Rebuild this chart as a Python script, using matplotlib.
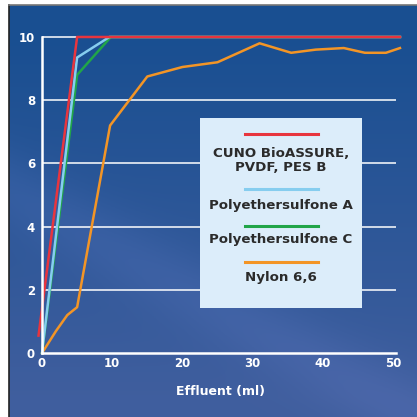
import numpy as np
import matplotlib
matplotlib.use('Agg')
import matplotlib.pyplot as plt
from matplotlib.lines import Line2D
from matplotlib.patches import Rectangle

# Values
cuno_x = [-0.5, 5, 51]
cuno_y = [0.55, 10, 10]
pes_a_x = [0, 5, 9.6, 51]
pes_a_y = [0, 9.35, 10, 10]
pes_c_x = [0, 5, 9.8, 51]
pes_c_y = [0, 8.8, 10, 10]
nylon_x = [0, 2, 3.6, 5, 9.7, 15, 20, 25, 31, 35.5, 39, 43, 46, 49, 51]
nylon_y = [0, 0.7, 1.2, 1.45, 7.2, 8.75, 9.05, 9.2, 9.8, 9.5, 9.6, 9.65, 9.5, 9.5, 9.65]

x_ticks = [0, 10, 20, 30, 40, 50]
y_ticks = [0, 2, 4, 6, 8, 10]

legend_labels = ['CUNO BioASSURE,\nPVDF, PES B', 'Polyethersulfone A',
                 'Polyethersulfone C', 'Nylon 6,6']
colors = ['#e8353e', '#86cdef', '#21a548', '#f39526']

fig = plt.figure(figsize=(4.17, 4.17), dpi=100)

# blue photo-like background
bg = fig.add_axes([9 / 417, 0, 1 - 9 / 417, 1 - 5 / 417])
yy, xx = np.mgrid[0:1:200j, 0:1:200j]
top = np.array([0.10, 0.31, 0.57])
bot = np.array([0.25, 0.37, 0.62])
t = np.clip(yy * 1.15 - 0.1, 0, 1)[..., None]
img = top * (1 - t) + bot * t
band = np.exp(-((yy - 0.55 * xx - 0.45) ** 2) / 0.01)[..., None]
img = img + band * np.array([0.04, 0.03, 0.04])
bg.imshow(np.clip(img, 0, 1), aspect='auto', extent=[0, 1, 0, 1], origin='upper')
bg.set_axis_off()
fig.add_artist(Line2D([9 / 417, 9 / 417], [0, 1 - 5 / 417], color='#222222', lw=1.2))
fig.add_artist(Line2D([9 / 417, 1], [1 - 5 / 417, 1 - 5 / 417], color='#777777', lw=1.2))

ax = fig.add_axes([35 / 417, 54.5 / 417, 372 / 417, 335 / 417])
ax.patch.set_alpha(0)
ax.set_xlim(-1, 52)
ax.set_ylim(-0.3, 10.3)

for y in y_ticks[1:]:
    ax.hlines(y, 0, 50.5, color='white', lw=1.1, zorder=1)

for xs, ys, c in zip([nylon_x, pes_c_x, pes_a_x, cuno_x],
                     [nylon_y, pes_c_y, pes_a_y, cuno_y],
                     [colors[3], colors[2], colors[1], colors[0]]):
    ax.plot(xs, ys, color=c, lw=1.8, zorder=3)

for side in ['top', 'right']:
    ax.spines[side].set_visible(False)
ax.spines['left'].set_position(('data', 0))
ax.spines['bottom'].set_position(('data', 0))
ax.spines['left'].set_bounds(0, 10)
ax.spines['bottom'].set_bounds(0, 50.5)
for side in ['left', 'bottom']:
    ax.spines[side].set_color('white')
    ax.spines[side].set_linewidth(1.8)
    ax.spines[side].set_zorder(4)

ax.set_xticks(x_ticks)
ax.set_yticks(y_ticks)
ax.tick_params(length=0, colors='white', labelsize=8.5)
ax.tick_params(axis='y', pad=5)
ax.tick_params(axis='x', pad=3)
for lab in ax.get_xticklabels() + ax.get_yticklabels():
    lab.set_fontweight('bold')
ax.set_xlabel('Effluent (ml)', color='white', fontsize=9, fontweight='bold', labelpad=11)

# legend box
fig.add_artist(Rectangle((200 / 417, 1 - 308 / 417), 162 / 417, 190 / 417,
                         transform=fig.transFigure, facecolor='#dcedfa',
                         edgecolor='none', zorder=5))
line_y = [134, 189, 226, 262]
text_y = [160.5, 205, 240, 278]
for c, lab, ly, ty in zip(colors, legend_labels, line_y, text_y):
    fig.add_artist(Line2D([245 / 417, 318 / 417], [1 - ly / 417] * 2, color=c,
                          lw=2.2, zorder=6))
    fig.text(281 / 417, 1 - ty / 417, lab, ha='center', va='center', fontsize=9.6,
             fontweight='bold', color='#2b2b2b', linespacing=1.05, zorder=7)

fig.savefig('out.png', dpi=100)
